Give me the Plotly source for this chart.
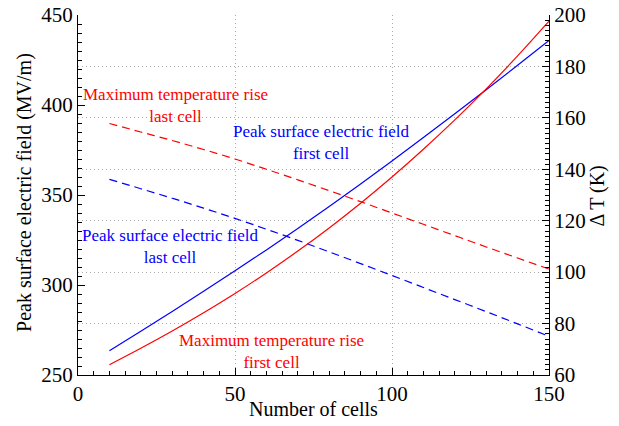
import plotly.graph_objects as go

cells = [10, 20, 30, 40, 50, 60, 70, 80, 90, 100, 110, 120, 130, 140, 150]

# Peak surface electric field (MV/m), left axis
field_first = [263.5, 274.3, 285.3, 296.5, 307.9, 319.5, 331.4, 343.6, 356.1,
               368.9, 381.9, 395.1, 408.5, 422.1, 435.9]
field_last = [358.7, 353.5, 348.2, 342.7, 337.0, 331.0, 324.8, 318.4, 311.9,
              305.3, 298.6, 291.9, 285.2, 278.4, 271.5]

# Maximum temperature rise (K), right axis
dT_first = [64.0, 70.4, 77.1, 84.2, 91.7, 99.7, 108.2, 117.2, 126.8,
            137.0, 147.8, 159.2, 171.3, 184.1, 197.6]
dT_last = [157.8, 154.5, 151.2, 147.7, 144.0, 140.0, 135.9, 131.7, 127.4,
           123.0, 118.6, 114.2, 109.8, 105.5, 101.2]

FONT = "Liberation Serif"
RED = "#ff0000"
BLUE = "#0000ff"

fig = go.Figure()
fig.add_trace(go.Scatter(x=cells, y=field_first, mode="lines", line_shape="spline",
                         line=dict(color=BLUE, width=1.2), yaxis="y"))
fig.add_trace(go.Scatter(x=cells, y=field_last, mode="lines", line_shape="spline",
                         line=dict(color=BLUE, width=1.2, dash="8px,5px"), yaxis="y"))
fig.add_trace(go.Scatter(x=cells, y=dT_first, mode="lines", line_shape="spline",
                         line=dict(color=RED, width=1.2), yaxis="y2"))
fig.add_trace(go.Scatter(x=cells, y=dT_last, mode="lines", line_shape="spline",
                         line=dict(color=RED, width=1.2, dash="8px,5px"), yaxis="y2"))

grid = dict(showgrid=True, gridcolor="#aaaaaa", griddash="1px,3px", gridwidth=1)

fig.update_layout(
    width=619, height=426,
    margin=dict(l=78, r=70, t=15, b=51),
    paper_bgcolor="white", plot_bgcolor="white",
    showlegend=False,
    font=dict(family=FONT, color="black", size=20),
    xaxis=dict(range=[0, 150], dtick=50, tick0=0, ticks="inside", ticklen=7,
               tickwidth=1, tickcolor="black", showline=True, linecolor="black",
               linewidth=1.2, zeroline=False, automargin=False,
               minor=dict(dtick=5, ticks="inside", ticklen=4, tickcolor="black", showgrid=False),
               tickfont=dict(family=FONT, size=21), **grid),
    yaxis=dict(range=[250, 450], dtick=50, tick0=250, ticks="inside", ticklen=7,
               tickwidth=1, tickcolor="black", showline=True, linecolor="black",
               linewidth=1.2, zeroline=False, showgrid=False, automargin=False,
               minor=dict(dtick=5, ticks="inside", ticklen=4, tickcolor="black"),
               tickfont=dict(family=FONT, size=21)),
    yaxis2=dict(range=[60, 200], dtick=20, tick0=60, ticks="inside", ticklen=7,
                tickwidth=1, tickcolor="black", showline=True, linecolor="black",
                linewidth=1.2, zeroline=False, overlaying="y", side="right",
                automargin=False,
                minor=dict(dtick=2, ticks="inside", ticklen=4, tickcolor="black", showgrid=False),
                tickfont=dict(family=FONT, size=21), **grid),
)

# axis titles
fig.add_annotation(text="Number of cells", xref="paper", yref="paper", x=0.501, y=-0.094,
                   xanchor="center", yanchor="middle", showarrow=False,
                   font=dict(family=FONT, size=20, color="black"))
fig.add_annotation(text="Peak surface electric field (MV/m)", xref="paper", yref="paper",
                   x=-0.115, y=0.508, xanchor="center", yanchor="middle", textangle=-90,
                   showarrow=False, font=dict(family=FONT, size=20, color="black"))
fig.add_annotation(text="Δ T (K)", xref="paper", yref="paper", x=1.103, y=0.497,
                   xanchor="center", yanchor="middle", textangle=-90,
                   showarrow=False, font=dict(family=FONT, size=20, color="black"))

labels = [
    ("Maximum temperature rise<br>last cell", 31.2, 399.8, RED),
    ("Peak surface electric field<br>first cell", 77.5, 379.3, BLUE),
    ("Peak surface electric field<br>last cell", 29.6, 321.5, BLUE),
    ("Maximum temperature rise<br>first cell", 61.5, 263.3, RED),
]
for text, x, y, c in labels:
    fig.add_annotation(text=text, x=x, y=y, xref="x", yref="y", showarrow=False,
                       font=dict(family=FONT, size=17, color=c), align="center")

fig.write_html("out.html", config={"displayModeBar": False},
               post_script="document.body.style.margin='0';")
